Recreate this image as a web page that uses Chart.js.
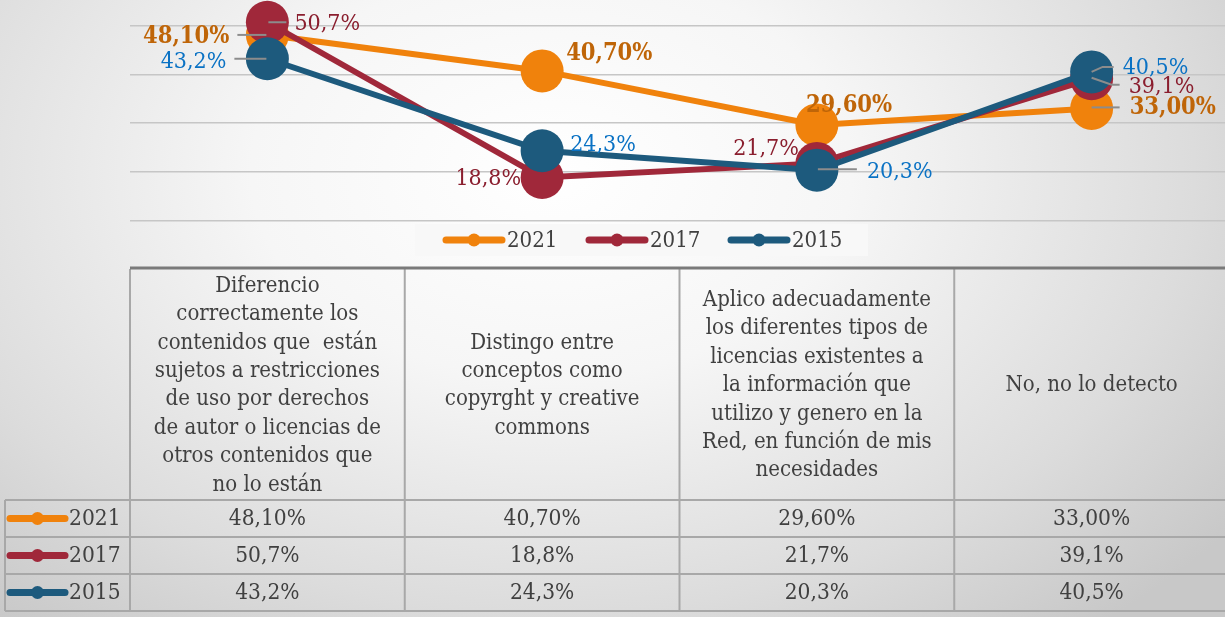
<!DOCTYPE html>
<html>
<head>
<meta charset="utf-8">
<script src="https://cdn.jsdelivr.net/npm/chart.js@4.4.1/dist/chart.umd.min.js"></script>
<style>
  html, body { margin: 0; padding: 0; }
  body {
    width: 1225px; height: 617px; overflow: hidden; position: relative;
    background: radial-gradient(ellipse 70% 95% at 45% 28%, #ffffff 0%, #f6f6f6 35%, #dcdcdc 75%, #c8c8c8 100%);
  }
  #chart { position: absolute; left: 0; top: -23px; }
</style>
</head>
<body>
<canvas id="chart" width="1229" height="640"></canvas>
<script>
// categories (header cells of the data table)
const categories = [
  ['Diferencio', 'correctamente los', 'contenidos que  están', 'sujetos a restricciones', 'de uso por derechos', 'de autor o licencias de', 'otros contenidos que', 'no lo están'],
  ['Distingo entre', 'conceptos como', 'copyrght y creative', 'commons'],
  ['Aplico adecuadamente', 'los diferentes tipos de', 'licencias existentes a', 'la información que', 'utilizo y genero en la', 'Red, en función de mis', 'necesidades'],
  ['No, no lo detecto']
];
const years = ['2021', '2017', '2015'];
const values2021 = [48.10, 40.70, 29.60, 33.00];
const values2017 = [50.7, 18.8, 21.7, 39.1];
const values2015 = [43.2, 24.3, 20.3, 40.5];
const decimals = [2, 1, 1];

const seriesColors = ['#F0820C', '#A0283A', '#1D5A7D'];
const labelColors = ['#BF6508', '#8A1E2E', '#0A72C4'];
const FONT = '"DejaVu Serif Condensed", "Liberation Serif", serif';

const fmt = (v, d) => v.toFixed(d).replace('.', ',') + '%';

// label placement per series and point: [dx, dy, align, leader polyline]
const placement = [
  [[-38, 2, 'right', [[-30, 0], [-1, 0]]], [24, -17, 'left'], [-11, -19, 'left'], [38, -1, 'left', [[0, -1], [28, -1]]]],
  [[27, 2, 'left', [[1, 0], [19, 0]]], [-21, 2, 'right'], [-18, -14, 'right'], [37, 8, 'left', [[0, -1], [20, 6], [28, 6]]]],
  [[-41, 3, 'right', [[-33, 0], [-1, 0]]], [28, -6, 'left'], [50, 2, 'left', [[1, -1], [40, -1]]], [31, -4, 'left', [[0, 0], [11, -5], [22, -5]]]]
];

const labelPlugin = {
  id: 'pointLabels',
  afterDatasetsDraw(chart) {
    const ctx = chart.ctx;
    ctx.save();
    chart.data.datasets.forEach((ds, di) => {
      const meta = chart.getDatasetMeta(di);
      meta.data.forEach((pt, i) => {
        const [dx, dy, align, leader] = placement[di][i];
        if (leader) {
          ctx.strokeStyle = '#8c8c8c';
          ctx.lineWidth = 2;
          ctx.beginPath();
          leader.forEach(([lx, ly], k) => {
            if (k === 0) ctx.moveTo(pt.x + lx, pt.y + ly);
            else ctx.lineTo(pt.x + lx, pt.y + ly);
          });
          ctx.stroke();
        }
        ctx.font = di === 0 ? 'bold 23.5px ' + FONT : '23px ' + FONT;
        ctx.fillStyle = labelColors[di];
        ctx.textAlign = align;
        ctx.textBaseline = 'middle';
        ctx.fillText(fmt(ds.data[i], decimals[di]), pt.x + dx, pt.y + dy);
      });
    });
    ctx.restore();
  }
};

function drawKey(ctx, x0, x1, y, color) {
  ctx.strokeStyle = color;
  ctx.lineWidth = 7;
  ctx.lineCap = 'round';
  ctx.beginPath();
  ctx.moveTo(x0, y);
  ctx.lineTo(x1, y);
  ctx.stroke();
  ctx.fillStyle = color;
  ctx.beginPath();
  ctx.arc((x0 + x1) / 2, y, 6.5, 0, Math.PI * 2);
  ctx.fill();
}

const legendPlugin = {
  id: 'boxLegend',
  afterDraw(chart) {
    const ctx = chart.ctx;
    const base = chart.chartArea.bottom;
    const top = base - 45, h = 32;
    ctx.save();
    ctx.fillStyle = 'rgba(248,248,248,0.95)';
    ctx.fillRect(415, top, 453, h);
    const keys = [446, 589, 731];
    years.forEach((yr, i) => {
      drawKey(ctx, keys[i], keys[i] + 56, top + h / 2, seriesColors[i]);
      ctx.font = '22px ' + FONT;
      ctx.fillStyle = '#404040';
      ctx.textAlign = 'left';
      ctx.textBaseline = 'middle';
      ctx.fillText(yr, keys[i] + 61, top + h / 2 + 1);
    });
    ctx.restore();
  }
};

const tablePlugin = {
  id: 'dataTable',
  afterDraw(chart) {
    const ctx = chart.ctx;
    const xs = chart.scales.x;
    const top = chart.chartArea.bottom;
    const headH = 231, rowH = 37;
    const colW = xs.getPixelForValue(1) - xs.getPixelForValue(0);
    const left = xs.getPixelForValue(0) - colW / 2;
    const right = chart.width;
    const bottom = top + headH + rowH * years.length;
    ctx.save();

    // grid
    ctx.strokeStyle = '#a8a8a8';
    ctx.lineWidth = 2;
    ctx.beginPath();
    for (let k = 0; k <= categories.length; k++) {
      const x = left + k * colW;
      ctx.moveTo(x, top);
      ctx.lineTo(x, bottom);
    }
    ctx.moveTo(5, top + headH);
    ctx.lineTo(5, bottom);
    for (let r = 0; r <= years.length; r++) {
      const y = top + headH + r * rowH;
      ctx.moveTo(5, y);
      ctx.lineTo(right, y);
    }
    ctx.stroke();

    // axis line
    ctx.strokeStyle = '#7a7a7a';
    ctx.lineWidth = 3;
    ctx.beginPath();
    ctx.moveTo(left, top - 1);
    ctx.lineTo(right, top - 1);
    ctx.stroke();

    // header text
    ctx.fillStyle = '#404040';
    ctx.textAlign = 'center';
    ctx.textBaseline = 'middle';
    ctx.font = '22px ' + FONT;
    const lh = 28.4;
    categories.forEach((lines, c) => {
      const cx = xs.getPixelForValue(c);
      const cy = top + headH / 2 + 1;
      lines.forEach((ln, k) => {
        ctx.fillText(ln, cx, cy + (k - (lines.length - 1) / 2) * lh);
      });
    });

    // rows
    chart.data.datasets.forEach((ds, r) => {
      const cy = top + headH + r * rowH + rowH / 2;
      drawKey(ctx, 10, 65, cy, seriesColors[r]);
      ctx.fillStyle = '#404040';
      ctx.font = '22.5px ' + FONT;
      ctx.textAlign = 'left';
      ctx.fillText(years[r], 69, cy + 1);
      ctx.font = '22.5px ' + FONT;
      ctx.textAlign = 'center';
      ds.data.forEach((v, c) => {
        ctx.fillText(fmt(v, decimals[r]), xs.getPixelForValue(c), cy + 1);
      });
    });
    ctx.restore();
  }
};

const seriesValues = [values2021, values2017, values2015];

new Chart(document.getElementById('chart'), {
  type: 'line',
  data: {
    labels: categories,
    datasets: years.map((yr, i) => ({
      label: yr,
      data: seriesValues[i],
      borderColor: seriesColors[i],
      backgroundColor: seriesColors[i],
      pointBackgroundColor: seriesColors[i],
      borderWidth: 6,
      pointRadius: 21.5,
      pointBorderWidth: 0,
      tension: 0,
      clip: false,
      order: 2 - i
    }))
  },
  options: {
    responsive: false,
    animation: false,
    layout: { autoPadding: false, padding: { left: 130, right: 0, top: 0, bottom: 348 } },
    plugins: {
      legend: { display: false },
      tooltip: { enabled: false }
    },
    scales: {
      x: { type: 'category', offset: true, display: false },
      y: {
        min: 0, max: 60,
        ticks: { display: false, stepSize: 10 },
        grid: {
          drawTicks: false,
          color: c => c.tick.value === 0 ? 'rgba(0,0,0,0)' : '#c6c6c6',
          lineWidth: 1.5
        },
        border: { display: false }
      }
    }
  },
  plugins: [labelPlugin, legendPlugin, tablePlugin]
});
</script>
</body>
</html>
